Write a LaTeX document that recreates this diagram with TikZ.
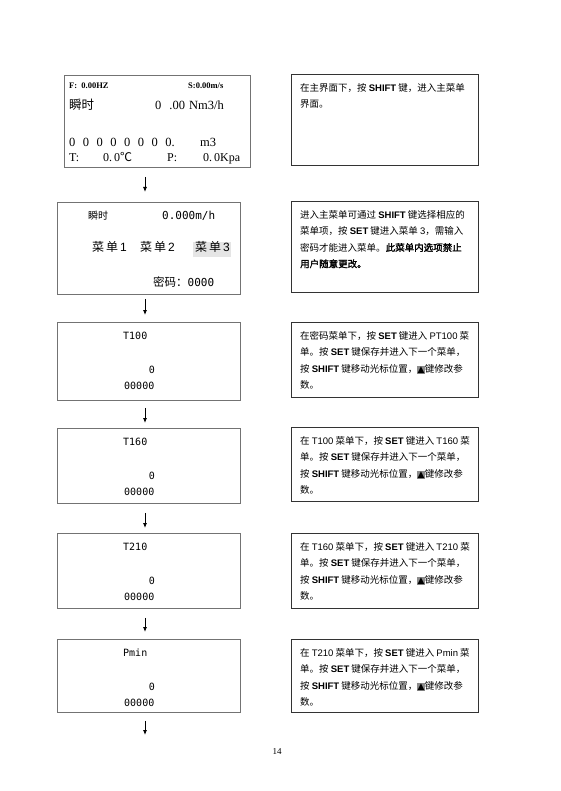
\documentclass[tikz,border=0pt]{standalone}
\usepackage{fontspec}
\setmainfont{Liberation Serif}
\newfontfamily\cjk[AutoFakeBold=2]{Noto Sans CJK SC}
\newfontfamily\lsans{Liberation Sans}
\newfontfamily\mono{DejaVu Sans Mono}
\newfontfamily\dv{DejaVu Sans}
\usetikzlibrary{arrows.meta}
\newcommand\kw[1]{{\lsans\bfseries #1}}
\newcommand\la[1]{{\lsans #1}}
\newcommand\tri{{\fboxsep=0.3pt\colorbox{black!45}{\dv\fontsize{9}{9}\selectfont ▲}}}
\begin{document}
\begin{tikzpicture}[x=1pt,y=-1pt,
 lbox/.style={draw=black!55,line width=0.8pt,inner sep=0pt,anchor=north west},
 rbox/.style={draw=black!80,line width=0.9pt,inner sep=0pt,anchor=north west},
 arr/.style={-{Latex[length=5pt,width=4pt]},line width=0.8pt},
 txt/.style={inner sep=0pt,anchor=base west},
 rline/.style={txt,font=\cjk\fontsize{9.5}{12}\selectfont},
 monot/.style={txt,font=\mono\fontsize{10}{12}\selectfont}]
\useasboundingbox[fill=white] (0,0) rectangle (560,791);

% left boxes
\node[lbox,minimum width=186pt,minimum height=92pt] (L1) at (64,75) {};
\node[lbox,minimum width=183pt,minimum height=92pt] (L2) at (57,202) {};
\node[lbox,minimum width=183pt,minimum height=78pt] (L3) at (57,322) {};
\node[lbox,minimum width=183pt,minimum height=75pt] (L4) at (57,428) {};
\node[lbox,minimum width=183pt,minimum height=75pt] (L5) at (57,533) {};
\node[lbox,minimum width=183pt,minimum height=73pt] (L6) at (57,639) {};

% right boxes
\node[rbox,minimum width=187pt,minimum height=91pt] (R1) at (291,74) {};
\node[rbox,minimum width=187pt,minimum height=91pt] (R2) at (291,201) {};
\node[rbox,minimum width=187pt,minimum height=75pt] (R3) at (291,322) {};
\node[rbox,minimum width=187pt,minimum height=74pt] (R4) at (291,427) {};
\node[rbox,minimum width=187pt,minimum height=75pt] (R5) at (291,533) {};
\node[rbox,minimum width=187pt,minimum height=73pt] (R6) at (291,639) {};

% arrows
\coordinate (ax) at (145,0);
\coordinate (endp) at (145,735);
\draw[arr] ([yshift=-9pt]L1.south -| ax) -- ([yshift=10pt]L2.north -| ax);
\draw[arr] ([yshift=-4pt]L2.south -| ax) -- ([yshift=7pt]L3.north -| ax);
\draw[arr] ([yshift=-7pt]L3.south -| ax) -- ([yshift=5pt]L4.north -| ax);
\draw[arr] ([yshift=-9pt]L4.south -| ax) -- ([yshift=5pt]L5.north -| ax);
\draw[arr] ([yshift=-9pt]L5.south -| ax) -- ([yshift=7pt]L6.north -| ax);
\draw[arr] ([yshift=-8pt]L6.south -| ax) -- (endp);

% box 1 (main screen)
\node[txt,font=\bfseries\fontsize{8.5}{10}\selectfont] (f1) at (69,89) {F:\ \ 0.00HZ};
\node[txt,font=\bfseries\fontsize{8.5}{10}\selectfont] (s1) at (188,89) {S:0.00m/s};
\node[txt,font=\cjk\fontsize{12.5}{14}\selectfont] (sh1) at (69,110) {瞬时};
\node[txt,font=\fontsize{12.5}{14}\selectfont] (v1) at (155,109.5) {0\hspace{8pt}.00\hspace{4pt}Nm3/h};
\node[txt,font=\fontsize{12.5}{14}\selectfont] (z1) at (69,146.5) {0\hspace{7.5pt}0\hspace{7.5pt}0\hspace{7.5pt}0\hspace{7.5pt}0\hspace{7.5pt}0\hspace{7.5pt}0\hspace{7.5pt}0.};
\node[txt,font=\fontsize{12.5}{14}\selectfont] (m1) at (200,146.5) {m3};
\node[txt,font=\fontsize{12}{13}\selectfont] (t1) at (69,161.5) {T:};
\node[txt,font=\fontsize{12}{13}\selectfont] (t2) at (103,161.5) {0.\,0{\cjk ℃}};
\node[txt,font=\fontsize{12}{13}\selectfont] (p1) at (167,161.5) {P:};
\node[txt,font=\fontsize{12}{13}\selectfont] (p2) at (203,161.5) {0.\,0Kpa};

% box 2 (menu screen)
\fill[black!10] (193,242) rectangle (231,257);
\node[txt,font=\cjk\fontsize{10}{12}\selectfont] (sh2) at (88,219.8) {瞬时};
\node[txt,font=\mono\fontsize{11}{13}\selectfont] (v2) at (162,220) {0.000m/h};
\node[txt,font=\cjk\fontsize{12}{14}\selectfont] (mn1) at (92,251.5) {菜\,单\,{\lsans 1}};
\node[txt,font=\cjk\fontsize{12}{14}\selectfont] (mn2) at (140,251.5) {菜\,单\,{\lsans 2}};
\node[txt,font=\cjk\fontsize{12}{14}\selectfont] (mn3) at (195,251.5) {菜\,单\,{\lsans 3}};
\node[txt,font=\cjk\fontsize{11.5}{14}\selectfont] (pw) at (153,286) {密码：{\mono\fontsize{11}{13}\selectfont 0000}};

% boxes 3-6 (parameter screens)
\foreach \n/\lab in {3/T100,4/T160,5/T210,6/Pmin}{
  \node[monot] (L\n-a) at ([xshift=66pt,yshift=-17pt]L\n.north west) {\lab};
  \node[monot,anchor=base east] (L\n-b) at ([xshift=98pt,yshift=-51pt]L\n.north west) {0};
  \node[monot] (L\n-c) at ([xshift=67pt,yshift=-67pt]L\n.north west) {00000};
}

% right texts
\foreach \t [count=\i] in {{在主界面下，按 \kw{SHIFT} 键，进入主菜单},{界面。}}
  \node[rline] (R1-\i) at ([xshift=9pt,yshift={-17.5pt-(\i-1)*16.3pt}]R1.north west) {\t};
\foreach \t [count=\i] in {{进入主菜单可通过 \kw{SHIFT} 键选择相应的},{菜单项，按 \kw{SET} 键进入菜单 \la{3}，需输入},{密码才能进入菜单。{\bfseries 此菜单内选项禁止}},{{\bfseries 用户随意更改。}}}
  \node[rline] (R2-\i) at ([xshift=9pt,yshift={-17.5pt-(\i-1)*16.3pt}]R2.north west) {\t};
\foreach \t [count=\i] in {{在密码菜单下，按 \kw{SET} 键进入 \la{PT100} 菜},{单。按 \kw{SET} 键保存并进入下一个菜单，},{按 \kw{SHIFT} 键移动光标位置，\tri{}键修改参},{数。}}
  \node[rline] (R3-\i) at ([xshift=9pt,yshift={-17.5pt-(\i-1)*16.3pt}]R3.north west) {\t};
\foreach \t [count=\i] in {{在 \la{T100} 菜单下，按 \kw{SET} 键进入 \la{T160} 菜},{单。按 \kw{SET} 键保存并进入下一个菜单，},{按 \kw{SHIFT} 键移动光标位置，\tri{}键修改参},{数。}}
  \node[rline] (R4-\i) at ([xshift=9pt,yshift={-17.5pt-(\i-1)*16.3pt}]R4.north west) {\t};
\foreach \t [count=\i] in {{在 \la{T160} 菜单下，按 \kw{SET} 键进入 \la{T210} 菜},{单。按 \kw{SET} 键保存并进入下一个菜单，},{按 \kw{SHIFT} 键移动光标位置，\tri{}键修改参},{数。}}
  \node[rline] (R5-\i) at ([xshift=9pt,yshift={-17.5pt-(\i-1)*16.3pt}]R5.north west) {\t};
\foreach \t [count=\i] in {{在 \la{T210} 菜单下，按 \kw{SET} 键进入 \la{Pmin} 菜},{单。按 \kw{SET} 键保存并进入下一个菜单，},{按 \kw{SHIFT} 键移动光标位置，\tri{}键修改参},{数。}}
  \node[rline] (R6-\i) at ([xshift=9pt,yshift={-17.5pt-(\i-1)*16.3pt}]R6.north west) {\t};

% page number
\node[font=\fontsize{9}{11}\selectfont,inner sep=0pt] (pg) at (277,752) {14};
\end{tikzpicture}
\end{document}
